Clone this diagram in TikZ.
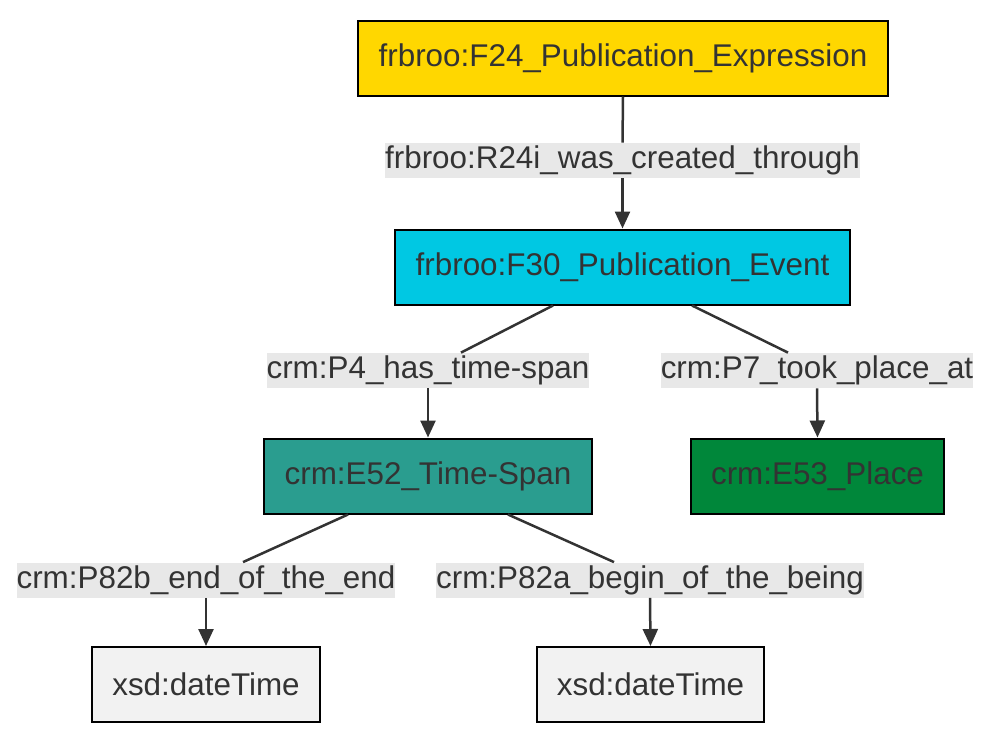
\documentclass[tikz,border=0pt]{standalone}
\usepackage{fontspec}
\setmainfont{Liberation Sans}
\usetikzlibrary{arrows.meta}
\definecolor{txt}{HTML}{333333}
\definecolor{gold}{HTML}{FFD700}
\definecolor{cyanbox}{HTML}{00C8E3}
\definecolor{tealbox}{HTML}{2A9D8F}
\definecolor{greenbox}{HTML}{00873A}
\definecolor{greybox}{HTML}{F2F2F2}
\definecolor{labelbg}{HTML}{E8E8E8}
\begin{document}
\begin{tikzpicture}[x=0.5pt,y=-0.5pt,
  every node/.style={font=\fontsize{15.7}{18}\selectfont, text=txt},
  cls/.style={draw=black, line width=1pt, minimum height=37.5pt, inner sep=0pt},
  prop/.style={fill=labelbg, minimum height=17.5pt, inner xsep=1pt, inner sep=0pt},
  edge/.style={draw=txt, line width=1.25pt},
  arr/.style={edge, -{Triangle[length=8.5pt,width=7.5pt]}}]
\useasboundingbox (0,0) rectangle (1006,744);
\node[cls, fill=gold, minimum width=265pt] (f24) at (623,58) {frbroo:F24\_Publication\_Expression};
\node[cls, fill=cyanbox, minimum width=227.5pt] (f30) at (622.5,267) {frbroo:F30\_Publication\_Event};
\node[cls, fill=tealbox, minimum width=164pt] (e52) at (428,476) {crm:E52\_Time-Span};
\node[cls, fill=greenbox, minimum width=126.5pt] (e53) at (817.5,476) {crm:E53\_Place};
\node[cls, fill=greybox, minimum width=114pt] (dt1) at (206,684.5) {xsd:dateTime};
\node[cls, fill=greybox, minimum width=113.5pt] (dt2) at (650.5,684.5) {xsd:dateTime};
\node[prop] (r24) at (622.5,160.5) {frbroo:R24i\_was\_created\_through};
\node[prop] (p4) at (428,370.5) {crm:P4\_has\_time-span};
\node[prop] (p7) at (817,370.5) {crm:P7\_took\_place\_at};
\node[prop] (p82b) at (206,580) {crm:P82b\_end\_of\_the\_end};
\node[prop] (p82a) at (650,580) {crm:P82a\_begin\_of\_the\_being};
\path[edge] (f24.south) -- (r24.north);
\path[arr] (r24.south) -- (f30.north);
\path[edge] ([xshift=-34.75pt]f30.south) -- ([xshift=16.5pt]p4.north);
\path[arr] (p4.south) -- (e52.north);
\path[edge] ([xshift=34.75pt]f30.south) -- ([xshift=-14.5pt]p7.north);
\path[arr] (p7.south) -- (e53.north);
\path[edge] ([xshift=-40pt]e52.south) -- ([xshift=18.5pt]p82b.north);
\path[arr] (p82b.south) -- (dt1.north);
\path[edge] ([xshift=40pt]e52.south) -- ([xshift=-18pt]p82a.north);
\path[arr] (p82a.south) -- (dt2.north);
\end{tikzpicture}
\end{document}
